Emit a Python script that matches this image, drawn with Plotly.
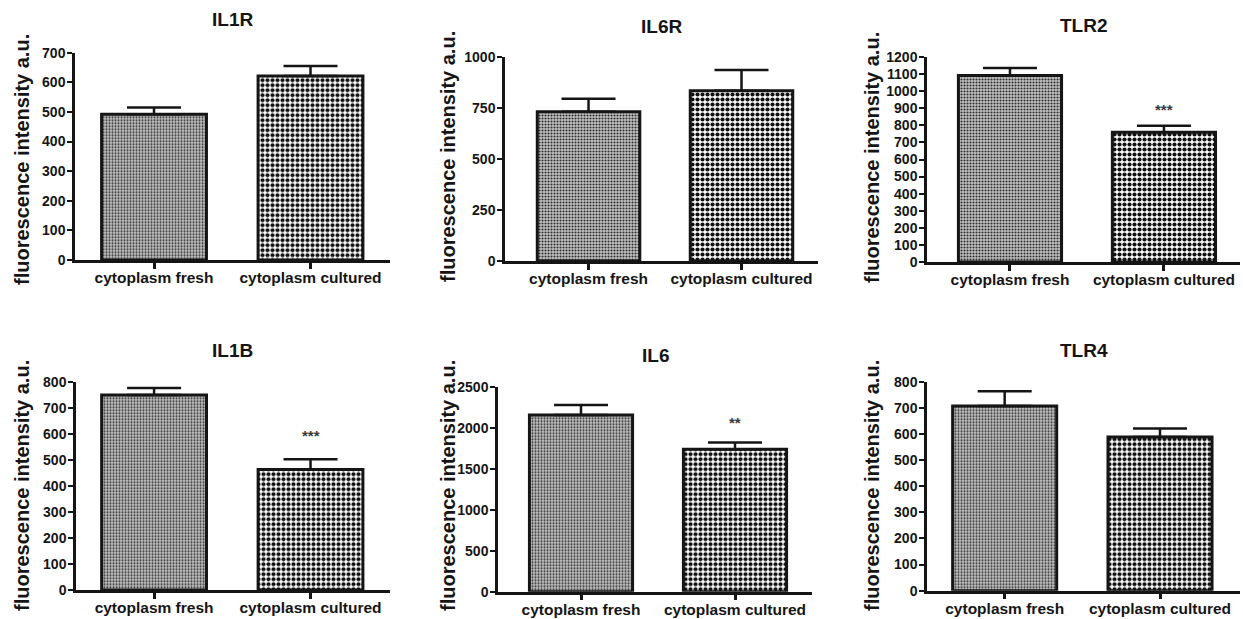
import plotly.graph_objects as go

W, H = 1243, 619

panel_titles = ["IL1R", "IL6R", "TLR2", "IL1B", "IL6", "TLR4"]
categories = ["cytoplasm fresh", "cytoplasm cultured"]

mean_fresh = [492, 732, 1092, 749, 2154, 707]
mean_cultured = [621, 835, 760, 463, 1736, 588]
err_fresh = [23, 63, 43, 27, 122, 56]
err_cultured = [34, 101, 37, 39, 85, 33]

y_max = [700, 1000, 1200, 800, 2500, 800]
y_step = [100, 250, 100, 100, 500, 100]

sig_label = ["**", "", "***", "***", "**", ""]
sig_y = [756, None, 890, 595, 2069, None]

# layout geometry (pixels): axis-left, axis-right, plot-top, plot-bottom, x-range
px_left = [75, 505, 927, 76, 498, 927]
px_right = [390, 818, 1240, 390, 812, 1240]
px_top = [52.7, 57, 57, 381.7, 386.7, 381.7]
px_bottom = [260, 261, 262, 590, 591.7, 590.7]
x_lo = [-0.505, -0.546, -0.539, -0.499, -0.539, -0.50]
x_hi = [1.508, 1.50, 1.494, 1.508, 1.50, 1.515]
title_y = [20, 27, 25, 350, 355, 350]
ytitle_x = [22, 448, 872, 22, 448, 872]
ytitle_y = [160, 157, 158, 486, 486, 486]

FONT = "Liberation Sans, Arial, sans-serif"
INK = "#151515"

fig = go.Figure()
annotations = []

for i in range(6):
    n = "" if i == 0 else str(i + 1)
    xa, ya = "x" + n, "y" + n
    fill_fresh = dict(shape=".", size=3, solidity=0.4, fgcolor="#2e2e2e", bgcolor="#c4c4c4")
    fill_cult = dict(shape=".", size=5, solidity=0.55, fgcolor="#111111", bgcolor="#ffffff")
    for j, (vals, errs, patt) in enumerate([
        (mean_fresh, err_fresh, fill_fresh),
        (mean_cultured, err_cultured, fill_cult),
    ]):
        fig.add_trace(go.Bar(
            x=[categories[j]], y=[vals[i]],
            xaxis=xa, yaxis=ya,
            width=0.67,
            marker=dict(color="#ffffff", pattern=patt,
                        line=dict(color=INK, width=3)),
            error_y=dict(type="data", array=[errs[i]], arrayminus=[0],
                         symmetric=False, color=INK, thickness=2.5, width=27),
            showlegend=False,
        ))
    xd = [px_left[i] / W, px_right[i] / W]
    yd = [1 - px_bottom[i] / H, 1 - px_top[i] / H]
    tv = list(range(0, y_max[i] + 1, y_step[i]))
    fig.layout["xaxis" + n] = dict(
        domain=xd, anchor=ya, type="category", categoryorder="array",
        categoryarray=categories, range=[x_lo[i], x_hi[i]],
        showline=True, linecolor=INK, linewidth=2.5,
        ticks="outside", ticklen=6, tickwidth=2.5, tickcolor=INK,
        ticklabelstandoff=-4,
        showgrid=False, zeroline=False, automargin=False, fixedrange=True,
        tickfont=dict(family=FONT, size=15.5, color=INK, weight="bold"),
    )
    fig.layout["yaxis" + n] = dict(
        domain=yd, anchor=xa, range=[0, y_max[i]],
        tickvals=tv, ticktext=[str(v) for v in tv],
        showline=True, linecolor=INK, linewidth=2.5,
        ticks="outside", ticklen=5, tickwidth=2, tickcolor=INK,
        ticklabelstandoff=-1,
        showgrid=False, zeroline=False, automargin=False, fixedrange=True,
        tickfont=dict(family=FONT, size=14, color=INK, weight="bold"),
    )
    annotations.append(dict(
        text=panel_titles[i], xref="paper", yref="paper",
        x=(xd[0] + xd[1]) / 2, y=1 - title_y[i] / H,
        xanchor="center", yanchor="middle", showarrow=False,
        font=dict(family=FONT, size=19, color=INK, weight="bold"),
    ))
    annotations.append(dict(
        text="fluorescence intensity a.u.", xref="paper", yref="paper",
        x=ytitle_x[i] / W, y=1 - ytitle_y[i] / H, textangle=-90,
        xanchor="center", yanchor="middle", showarrow=False,
        font=dict(family=FONT, size=20, color=INK, weight="bold"),
    ))
    if sig_label[i]:
        annotations.append(dict(
            text=sig_label[i], xref=xa, yref=ya,
            x=categories[1], y=sig_y[i],
            xanchor="center", yanchor="middle", showarrow=False,
            font=dict(family=FONT, size=15, color="#3a3a3a", weight="bold"),
        ))

fig.update_layout(
    width=W, height=H,
    margin=dict(l=0, r=0, t=0, b=0),
    paper_bgcolor="white", plot_bgcolor="white",
    template="none",
    annotations=annotations,
    barmode="overlay",
)

fig.write_html(
    "out.html",
    config={"displayModeBar": False},
    post_script="document.body.style.margin='0';document.body.style.overflow='hidden';",
)
